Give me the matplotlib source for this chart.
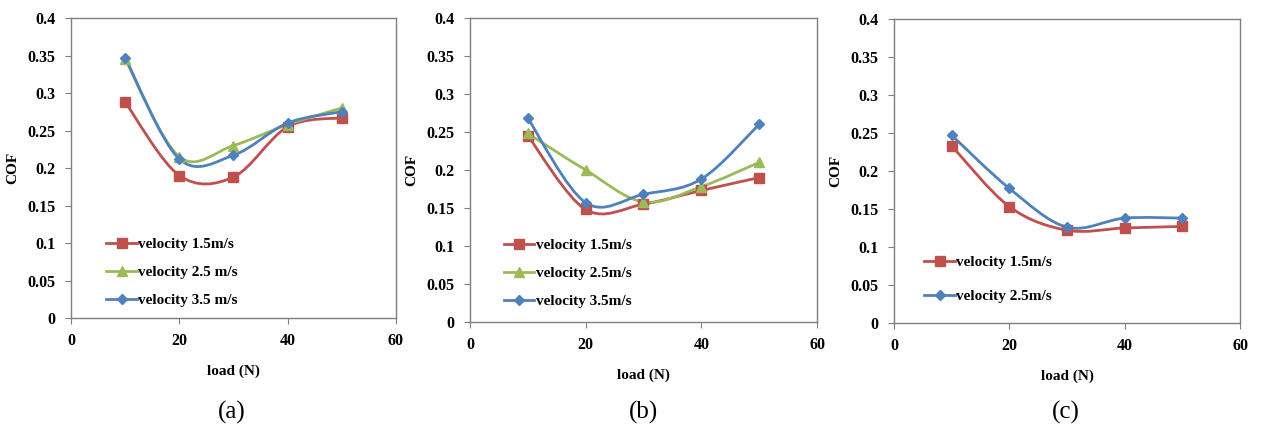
import matplotlib

matplotlib.use("Agg")
import matplotlib.pyplot as plt
import numpy as np
from matplotlib.path import Path
from matplotlib.patches import PathPatch
from matplotlib.ticker import FuncFormatter

plt.rcParams["font.family"] = ["Liberation Serif", "DejaVu Serif"]

LOAD = [10, 20, 30, 40, 50]

# panel (a)
A_V15 = [0.288, 0.190, 0.188, 0.255, 0.267]
A_V25 = [0.345, 0.215, 0.230, 0.258, 0.280]
A_V35 = [0.347, 0.212, 0.217, 0.260, 0.275]
A_LABELS = ["velocity 1.5m/s", "velocity 2.5 m/s", "velocity 3.5 m/s"]

# panel (b)
B_V15 = [0.245, 0.148, 0.155, 0.173, 0.190]
B_V25 = [0.248, 0.200, 0.158, 0.178, 0.210]
B_V35 = [0.268, 0.157, 0.168, 0.188, 0.260]
B_LABELS = ["velocity 1.5m/s", "velocity 2.5m/s", "velocity 3.5m/s"]

# panel (c)
C_V15 = [0.233, 0.153, 0.122, 0.125, 0.127]
C_V25 = [0.247, 0.177, 0.126, 0.138, 0.138]
C_LABELS = ["velocity 1.5m/s", "velocity 2.5m/s"]

RED = "#C0504D"
GREEN = "#9BBB59"
BLUE = "#4F81BD"
STYLES = [(RED, "s", 7.5), (GREEN, "^", 7.5), (BLUE, "D", 5.5)]


def smooth_path(x, y):
    """Excel-like smoothed line as cubic bezier segments through the points."""
    pts = np.column_stack([x, y]).astype(float)
    n = len(pts)
    verts = [pts[0]]
    codes = [Path.MOVETO]
    for i in range(n - 1):
        p0 = pts[i - 1] if i > 0 else pts[i]
        p1 = pts[i]
        p2 = pts[i + 1]
        p3 = pts[i + 2] if i + 2 < n else pts[i + 1]
        c1 = p1 + (p2 - p0) / 6.0
        c2 = p2 - (p3 - p1) / 6.0
        verts += [c1, c2, p2]
        codes += [Path.CURVE4] * 3
    return Path(verts, codes)


def fmt_y(v, _):
    return f"{v:.2f}".rstrip("0").rstrip(".")


def panel(ax, series, styles, labels, legend_anchor, spacing):
    proxies = []
    for (color, marker, ms), ys, lab in zip(styles, series, labels):
        ax.add_patch(PathPatch(smooth_path(LOAD, ys), fill=False,
                               edgecolor=color, linewidth=2.0, zorder=2))
        ax.plot(LOAD, ys, linestyle="None", color=color,
                marker=marker, markersize=ms, markeredgecolor=color, zorder=3)
        p, = ax.plot([], [], color=color, lw=2.0, marker=marker,
                     markersize=ms, label=lab)
        proxies.append(p)
    ax.legend(handles=proxies, loc="lower left", bbox_to_anchor=legend_anchor,
              frameon=False, handlelength=2.0, handletextpad=0.1,
              labelspacing=spacing, borderaxespad=0,
              prop={"weight": "bold", "size": 11})

    ax.set_xlim(0, 60)
    ax.set_ylim(0, 0.4)
    ax.set_xticks([0, 20, 40, 60])
    ax.set_yticks(np.arange(0, 0.401, 0.05))
    ax.yaxis.set_major_formatter(FuncFormatter(fmt_y))
    for lab in ax.get_xticklabels() + ax.get_yticklabels():
        lab.set_fontweight("bold")
        lab.set_fontsize(11.5)
    ax.tick_params(direction="out", length=4, width=0.8, color="#808080", pad=7)
    for sp in ax.spines.values():
        sp.set_color("#7f7f7f")
        sp.set_linewidth(1.0)
    ax.set_xlabel("load (N)", fontsize=11, fontweight="bold", labelpad=11)
    ax.set_ylabel("COF", fontsize=11, fontweight="bold", labelpad=6)


fig = plt.figure(figsize=(12.61, 4.37), dpi=100)

ax_a = fig.add_axes([0.0563, 0.2723, 0.2577, 0.6865])
ax_b = fig.add_axes([0.3727, 0.2632, 0.2752, 0.6957])
ax_c = fig.add_axes([0.7090, 0.2609, 0.2744, 0.6957])

panel(ax_a, [A_V15, A_V25, A_V35], STYLES, A_LABELS, (0.09, 0.015), 0.95)
panel(ax_b, [B_V15, B_V25, B_V35], STYLES, B_LABELS, (0.08, 0.025), 0.95)
panel(ax_c, [C_V15, C_V25], [STYLES[0], STYLES[2]], C_LABELS, (0.07, 0.045), 1.35)

for x, tag in zip([0.184, 0.51, 0.845], ["(a)", "(b)", "(c)"]):
    fig.text(x, 0.057, tag, ha="center", va="center", fontsize=18)

fig.savefig("out.png", dpi=100)
